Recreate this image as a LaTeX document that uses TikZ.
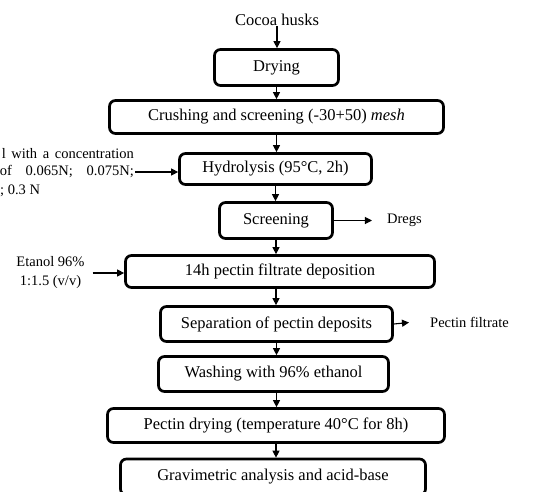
\documentclass[tikz,border=0pt]{standalone}
\usepackage{fontspec}
\setmainfont{Liberation Serif}
\usetikzlibrary{arrows.meta}
\begin{document}
\begin{tikzpicture}[x=1pt,y=-1pt,
  box/.style={draw,line width=2.7pt,rounded corners=6pt,inner sep=0pt,align=center,font=\fontsize{16.5}{18}\selectfont},
  arr/.style={-{Triangle[length=7pt,width=7pt]},line width=1.1pt},
  side/.style={font=\fontsize{14.5}{19}\selectfont,inner sep=0pt}]
\useasboundingbox (0,0) rectangle (541,491);
\clip (0,0) rectangle (541,491);
% main boxes
\node[side,font=\fontsize{16.5}{18}\selectfont] (cocoa) at (277,20) {Cocoa husks};
\node[box,minimum width=124pt,minimum height=36pt] (dry) at (276.5,67.5) {Drying};
\node[box,minimum width=334pt,minimum height=33pt] (crush) at (276.5,117) {Crushing and screening (-30+50) \textit{mesh}};
\node[box,minimum width=192pt,minimum height=31pt] (hyd) at (275.5,169) {Hydrolysis (95°C, 2h)};
\node[box,minimum width=113pt,minimum height=36pt] (scr) at (276,220.5) {Screening};
\node[box,minimum width=309pt,minimum height=32pt] (dep) at (280,271.5) {14h pectin filtrate deposition};
\node[box,minimum width=232pt,minimum height=35pt] (sep) at (276.5,324) {Separation of pectin deposits};
\node[box,minimum width=230pt,minimum height=35pt] (wash) at (273.5,374) {Washing with 96\% ethanol};
\node[box,minimum width=337pt,minimum height=34pt] (pdry) at (276,425.5) {Pectin drying (temperature 40°C for 8h)};
\node[box,minimum width=305pt,minimum height=36pt] (grav) at (273,477) {Gravimetric analysis and acid-base};
% side texts
\node[side,anchor=east] (hcl1) at (134,154) {\makebox[132pt][s]{l with a concentration}};
\node[side,anchor=east] (hcl2) at (134,172) {\makebox[134pt][s]{of 0.065N; 0.075N;}};
\node[side,anchor=west] (hcl3) at (0,191) {; 0.3 N};
\node[side] (dregs) at (404.5,220.5) {Dregs};
\node[side,align=center] (eta) at (50.5,273) {Etanol 96\%\\1:1.5 (v/v)};
\node[side,anchor=west] (filt) at (430,322.5) {Pectin filtrate};
% vertical arrows
\draw[arr] (cocoa.south) -- (cocoa.south |- dry.north);
\draw[arr] (dry.south) -- (dry.south |- crush.north);
\draw[arr] (crush.south) -- (crush.south |- hyd.north);
\draw[arr] (hyd.south) -- (hyd.south |- scr.north);
\draw[arr] (scr.south) -- (scr.south |- dep.north);
\draw[arr] (scr.south |- dep.south) -- (scr.south |- sep.north);
\draw[arr] (sep.south) -- (sep.south |- wash.north);
\draw[arr] (sep.south |- wash.south) -- (sep.south |- pdry.north);
\draw[arr] (pdry.south) -- (pdry.south |- grav.north);
% side arrows
\draw[arr] ([xshift=1pt]hcl2.east) -- (hcl2.east -| hyd.west);
\draw[arr] (scr.east) -- ([xshift=-15pt]dregs.west);
\draw[arr] ([xshift=8pt]eta.east) -- (eta.east -| dep.west);
\draw[arr] (sep.east) -- ([xshift=-21pt]filt.west);
\end{tikzpicture}
\end{document}
